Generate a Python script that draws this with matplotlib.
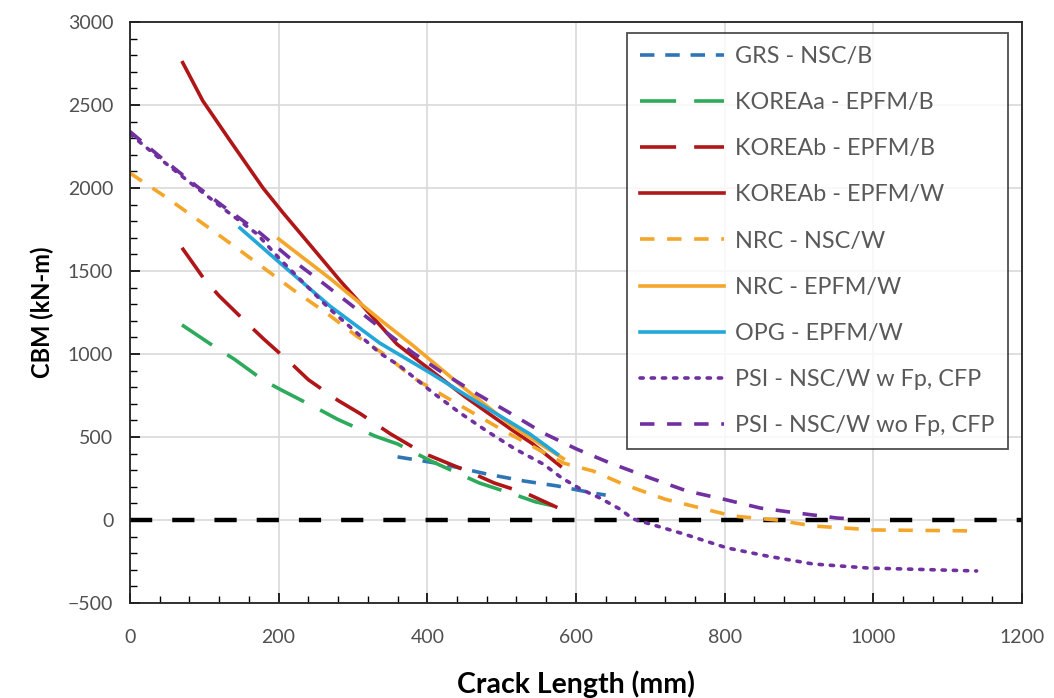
import matplotlib.pyplot as plt
from matplotlib.ticker import MultipleLocator

# crack length (mm) / CBM (kN-m)
grs_x = [360, 420, 480, 530, 575, 620, 640]
grs_y = [380, 337, 277, 235, 205, 165, 150]

korea_a_b_x = [70, 115, 140, 180, 205, 255, 280, 330, 360, 405, 470, 515, 545, 575]
korea_a_b_y = [1175, 1040, 970, 840, 780, 665, 605, 505, 458, 355, 223, 157, 110, 80]

korea_b_b_x = [70, 100, 120, 160, 180, 220, 240, 280, 310, 350, 394, 460, 490, 535, 575]
korea_b_b_y = [1640, 1450, 1350, 1175, 1090, 930, 845, 720, 640, 520, 404, 283, 223, 157, 75]

korea_b_w_x = [71, 98, 135, 179, 206, 238, 283, 359, 450, 516, 542, 579]
korea_b_w_y = [2755, 2525, 2283, 2000, 1850, 1680, 1440, 1060, 745, 536, 458, 325]

nrc_nsc_x = [0, 50, 100, 140, 180, 220, 265, 305, 345, 380, 427, 500, 583, 623, 664, 720, 811, 870, 919, 1000, 1143]
nrc_nsc_y = [2090, 1940, 1780, 1650, 1518, 1385, 1245, 1108, 990, 860, 735, 545, 343, 295, 215, 125, 24, 0, -36, -60, -66]

nrc_epfm_x = [200, 270, 337, 381, 448, 516, 583]
nrc_epfm_y = [1693, 1452, 1205, 1050, 800, 560, 370]

opg_x = [148, 202, 269, 336, 404, 471, 538, 575]
opg_y = [1759, 1548, 1289, 1066, 886, 699, 518, 397]

psi_w_x = [0, 44, 90, 130, 171, 202, 269, 336, 363, 408, 444, 480, 518, 556, 581, 606, 632, 659, 677,
           745, 803, 857, 919, 992, 1139]
psi_w_y = [2325, 2163, 2000, 1861, 1723, 1570, 1270, 1006, 928, 765, 645, 536, 428, 337, 253, 187, 133, 66, 6,
           -84, -168, -217, -265, -289, -307]

psi_wo_x = [0, 44, 90, 134, 175, 215, 256, 296, 337, 381, 421, 467, 511, 556, 601, 646, 700, 749, 798, 848, 898, 951, 966]
psi_wo_y = [2340, 2175, 2010, 1861, 1729, 1578, 1440, 1301, 1157, 1006, 886, 759, 645, 524, 427, 343, 253, 175, 126, 72, 42, 12, 8]

plt.rcParams['font.family'] = ['Lato', 'DejaVu Sans']

fig = plt.figure(figsize=(10.54, 6.98), dpi=100)
ax = fig.add_axes([0.1233, 0.1361, 0.8463, 0.8324])

lw = 2.6
ax.plot([0, 1200], [0, 0], color="black", lw=3.2, linestyle=(0, (5, 4.5)), zorder=2)

ax.plot(grs_x, grs_y, color="#2e75b6", lw=lw, linestyle=(0, (4, 3)), label="GRS - NSC/B")
ax.plot(korea_a_b_x, korea_a_b_y, color="#2eaa5c", lw=lw, linestyle=(0, (10, 5)), label="KOREAa - EPFM/B")
ax.plot(korea_b_b_x, korea_b_b_y, color="#b01517", lw=lw, linestyle=(0, (10, 5)), label="KOREAb - EPFM/B")
ax.plot(korea_b_w_x, korea_b_w_y, color="#b01517", lw=lw, label="KOREAb - EPFM/W")
ax.plot(nrc_nsc_x, nrc_nsc_y, color="#f4a62a", lw=lw, linestyle=(0, (4, 3.5)), label="NRC - NSC/W")
ax.plot(nrc_epfm_x, nrc_epfm_y, color="#f4a62a", lw=lw, label="NRC - EPFM/W")
ax.plot(opg_x, opg_y, color="#22a7d8", lw=lw, label="OPG - EPFM/W")
ax.plot(psi_w_x, psi_w_y, color="#7030a0", lw=lw, linestyle=(0, (0.9, 2.2)), dash_capstyle="round",
        label="PSI - NSC/W w Fp, CFP")
ax.plot(psi_wo_x, psi_wo_y, color="#7030a0", lw=lw, linestyle=(0, (4, 3.5)), label="PSI - NSC/W wo Fp, CFP")

ax.set_xlim(0, 1200)
ax.set_ylim(-500, 3000)
ax.xaxis.set_major_locator(MultipleLocator(200))
ax.xaxis.set_minor_locator(MultipleLocator(40))
ax.yaxis.set_major_locator(MultipleLocator(500))
ax.yaxis.set_minor_locator(MultipleLocator(100))
ax.tick_params(which="both", direction="in", top=False, right=False, colors="black",
               labelcolor="#505050", labelsize=14)
ax.tick_params(which="major", length=7, width=1.2)
ax.tick_params(which="minor", length=5, width=1)
ax.tick_params(axis="x", which="major", pad=19)
ax.tick_params(axis="y", which="major", pad=12)
ax.grid(True, which="major", color="#d9d9d9", lw=1.2)
ax.set_axisbelow(True)
for s in ax.spines.values():
    s.set_color("#222222")
    s.set_linewidth(1.3)

ax.set_xlabel("Crack Length (mm)", fontsize=20.5, fontweight="bold", labelpad=17)
ax.set_ylabel("CBM (kN-m)", fontsize=17, fontweight="bold", labelpad=10)

leg = ax.legend(loc="upper right", bbox_to_anchor=(0.984, 0.981), fontsize=16.8, frameon=True,
                fancybox=False, edgecolor="#222222", handlelength=3.6, labelspacing=1.08,
                borderpad=0.55, handletextpad=0.5, borderaxespad=0)
leg.get_frame().set_linewidth(1.3)
for t in leg.get_texts():
    t.set_color("#595959")

fig.savefig("out.png", dpi=100)
